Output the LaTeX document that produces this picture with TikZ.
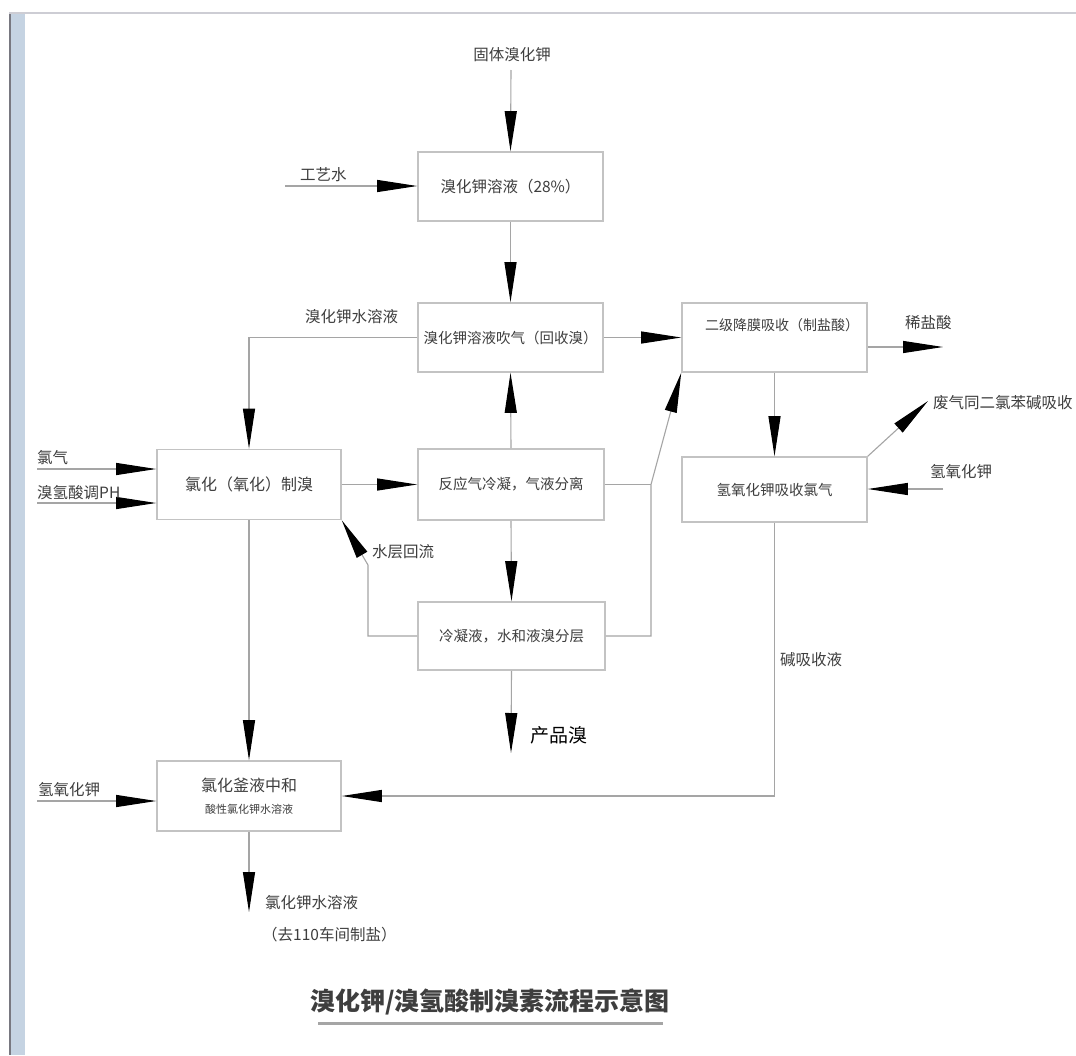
\documentclass[tikz,border=0pt]{standalone}
\usepackage{fontspec}
\setmainfont{Noto Sans CJK SC}
\usetikzlibrary{arrows.meta}
\definecolor{txtgray}{RGB}{62,62,62}
\definecolor{boxgray}{RGB}{195,195,195}
\definecolor{linegray}{RGB}{165,165,165}
\definecolor{stripblue}{RGB}{197,211,226}
\definecolor{stripdark}{RGB}{120,120,128}
\definecolor{topgray}{RGB}{205,205,212}
\begin{document}
\begin{tikzpicture}[x=1pt,y=-1pt,
  box/.style={draw=boxgray, line width=1.6pt, inner sep=0pt, text=txtgray, font=\fontsize{14.5}{18}\selectfont, align=center},
  lbl/.style={inner sep=0pt, text=txtgray, font=\fontsize{15.5}{18}\selectfont, anchor=west},
  conn/.style={draw=linegray, line width=1.1pt},
  arr/.style={conn, -{Triangle[length=40pt,width=12pt,color=black]}}
]
\useasboundingbox (0,0) rectangle (1076,1055);
\clip (0,0) rectangle (1076,1055);
\fill[white] (0,0) rectangle (1076,1055);
\fill[stripblue] (10,13) rectangle (25,1055);
\fill[stripdark] (9,13) rectangle (11,1055);
\draw[topgray, line width=1.5pt] (9,13) -- (1076,13);

% boxes
\node[box, minimum width=185pt, minimum height=69pt] (A) at (510.5,186.5) {\fontsize{15.5}{18}\selectfont 溴化钾溶液（28\%）};
\node[box, minimum width=185pt, minimum height=69pt] (B) at (510.5,337.5) {溴化钾溶液吹气（回收溴）};
\node[box, minimum width=184pt, minimum height=70pt] (C) at (249,484.5) {\fontsize{16}{18}\selectfont 氯化（氧化）制溴};
\node[box, minimum width=186pt, minimum height=71pt] (D) at (511,484.5) {反应气冷凝，气液分离};
\node[box, minimum width=187pt, minimum height=68pt] (E) at (511.5,636) {冷凝液，水和液溴分层};
\node[box, minimum width=185pt, minimum height=69pt] (F) at (774.5,337.5) {};
\node[lbl, anchor=center, font=\fontsize{14}{18}\selectfont] (Ft) at (782,325) {二级降膜吸收（制盐酸）};
\node[box, minimum width=185pt, minimum height=65pt] (G) at (774.5,489.5) {氢氧化钾吸收氯气};
\node[box, minimum width=184pt, minimum height=70pt] (H) at (249,796) {\fontsize{16}{18}\selectfont 氯化釜液中和\\[4pt]{\fontsize{11}{13}\selectfont 酸性氯化钾水溶液}};

% free-end coordinates
\coordinate (gt) at (511,70);
\coordinate (gy) at (285,186);
\coordinate (cl) at (37,469);
\coordinate (hb) at (37,503);
\coordinate (kl) at (37,801);
\coordinate (prod) at (511,753);
\coordinate (hd) at (249,912);
\coordinate (xs) at (943,347);
\coordinate (fq) at (928,401);
\coordinate (kr) at (943,489);
\coordinate (c1) at (368,565);
\coordinate (r1) at (651,484.5);

% connectors
\draw[arr] (gt) -- (A.north);
\draw[arr] (gy) -- (A.west |- gy);
\draw[arr] (A) -- (B);
\draw[arr] (B.west) -| (C.north);
\draw[arr] (cl) -- (C.west |- cl);
\draw[arr] (hb) -- (C.west |- hb);
\draw[arr] (C.east) -- (D.west);
\draw[arr] (D.north) -- (B.south);
\draw[arr] (D.south) -- (E.north);
\draw[arr] (E.south) -- (prod);
\draw[arr] (E.west) -| (c1) -- (C.south east);
\draw[conn] (D.east) -- (r1);
\draw[arr] (E.east) -| (r1) -- (F.south west);
\draw[arr] (B.east) -- (F.west);
\draw[arr] (F.east |- xs) -- (xs);
\draw[arr] (F.south) -- (G.north);
\draw[arr] (G.north east) -- (fq);
\draw[arr] (kr) -- (G.east |- kr);
\draw[arr] (G.south) |- (H.east);
\draw[arr] (C.south) -- (H.north);
\draw[arr] (kl) -- (H.west |- kl);
\draw[arr] (H.south) -- (hd);

% labels
\node[lbl, anchor=center] (l1) at (512,55) {固体溴化钾};
\node[lbl] (l2) at (300,175) {工艺水};
\node[lbl] (l3) at (305,317) {溴化钾水溶液};
\node[lbl] (l4) at (905,323) {稀盐酸};
\node[lbl] (l5) at (933,403) {废气同二氯苯碱吸收};
\node[lbl] (l6) at (930,472) {氢氧化钾};
\node[lbl] (l7) at (37,458) {氯气};
\node[lbl] (l8) at (37,493) {溴氢酸调PH};
\node[lbl] (l9) at (372,552) {水层回流};
\node[lbl, text=black, font=\fontsize{19}{22}\selectfont] (l10) at (530,735) {产品溴};
\node[lbl] (l11) at (780,660) {碱吸收液};
\node[lbl] (l12) at (38,790) {氢氧化钾};
\node[lbl] (l13) at (265,903) {氯化钾水溶液};
\node[lbl] (l14) at (262,935) {（去110车间制盐）};
\node[inner sep=0pt, text=txtgray, font=\fontsize{25}{28}\selectfont\bfseries] (title) at (490,1002) {溴化钾/溴氢酸制溴素流程示意图};
\draw[line width=3pt, draw=linegray] (318,1023) -- (663,1023);
\end{tikzpicture}
\end{document}
